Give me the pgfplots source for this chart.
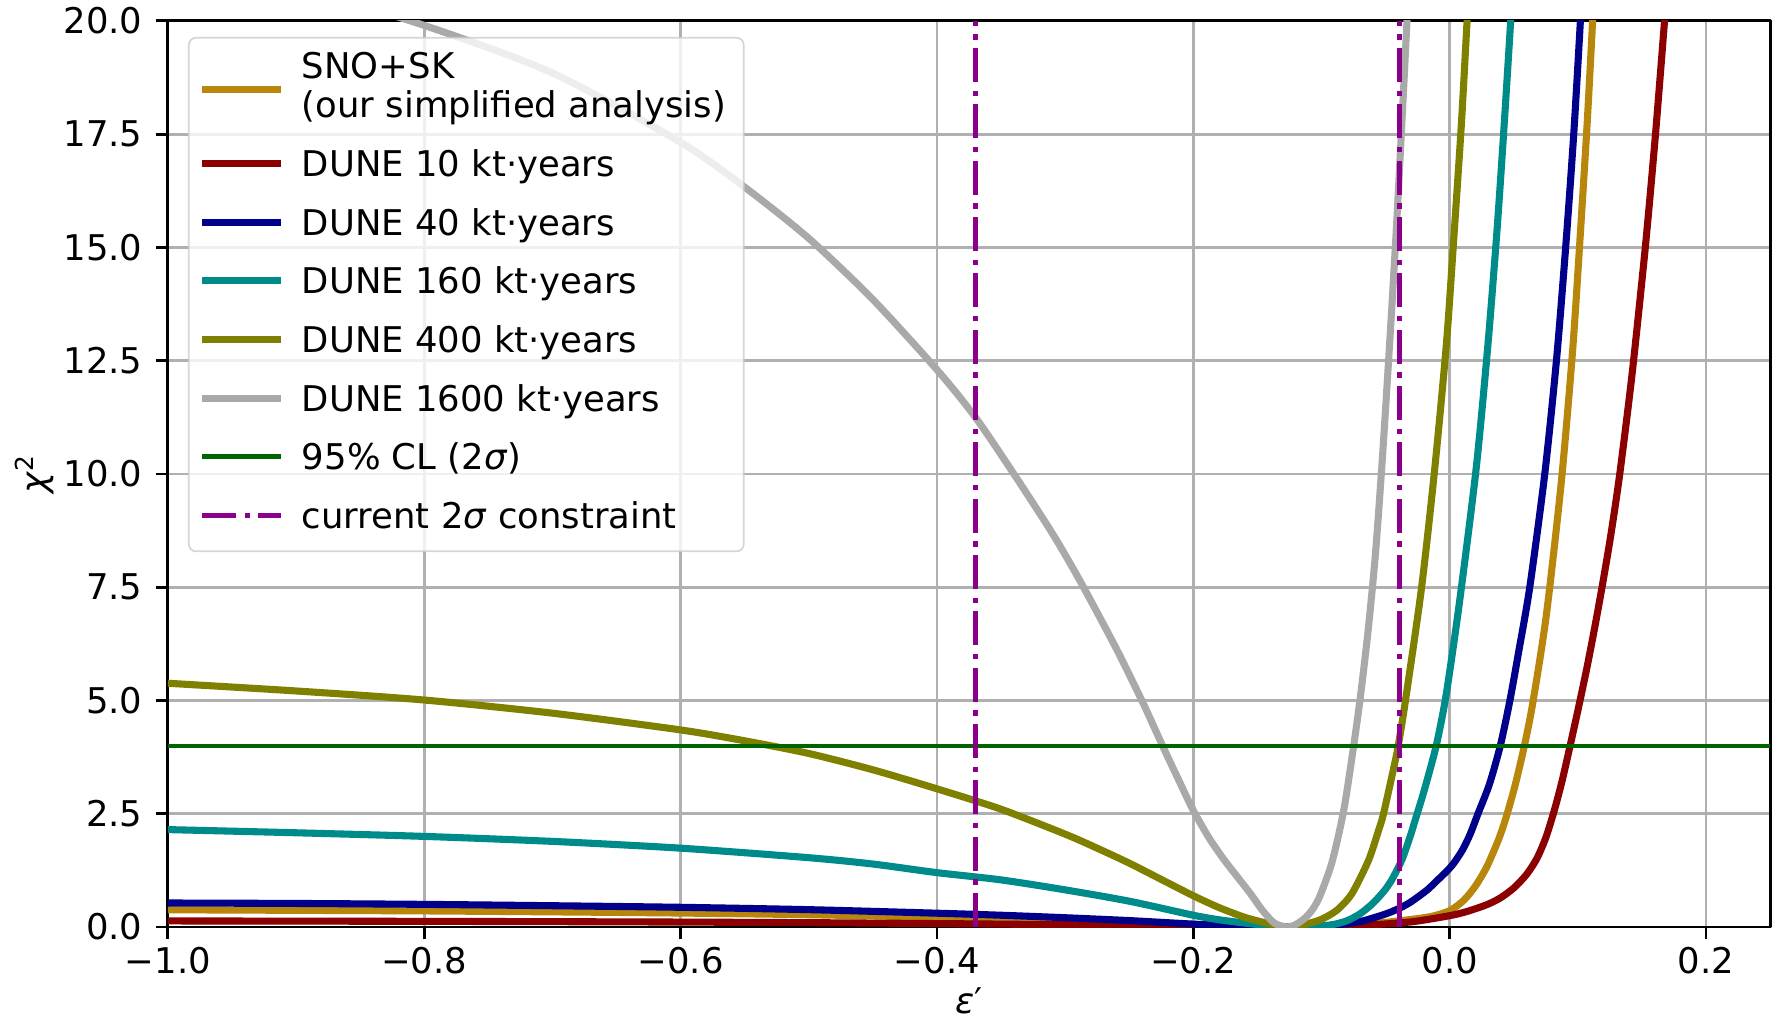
\documentclass[border=0pt]{standalone}
\usepackage{fontspec}
\setmainfont{DejaVu Sans}
\usepackage{pgfplots}
\pgfplotsset{compat=1.18}

\definecolor{cgold}{HTML}{B8860B}
\definecolor{cred}{HTML}{8B0000}
\definecolor{cblue}{HTML}{00008B}
\definecolor{ccyan}{HTML}{008B8B}
\definecolor{colive}{HTML}{808000}
\definecolor{cgray}{HTML}{A9A9A9}
\definecolor{cgreen}{HTML}{006400}
\definecolor{cmag}{HTML}{8B008B}
\definecolor{gridc}{HTML}{B0B0B0}

% strut that fixes the height of a one-line legend row
\newcommand{\ls}{\rule[-4.58pt]{0pt}{16.55pt}}

\begin{document}
\begin{tikzpicture}
\useasboundingbox (-47.4pt,-26.5pt) rectangle (455.1pt,261.7pt);
\begin{axis}[
    scale only axis,
    width=452.3pt, height=255.8pt,
    xmin=-1, xmax=0.25, ymin=0, ymax=20,
    xtick={-1,-0.8,-0.6,-0.4,-0.2,0,0.2},
    xticklabels={−1.0,−0.8,−0.6,−0.4,−0.2,0.0,0.2},
    ytick={0,2.5,5,7.5,10,12.5,15,17.5,20},
    yticklabels={0.0,2.5,5.0,7.5,10.0,12.5,15.0,17.5,20.0},
    xtick pos=bottom, ytick pos=left,
    tick align=outside, major tick length=3.5pt,
    every tick/.style={black, line width=0.8pt},
    axis line style={line width=0.8pt},
    grid=major,
    major grid style={color=gridc, line width=0.8pt},
    tick label style={font=\fontsize{10}{12}\selectfont},
    xticklabel style={anchor=north, inner sep=0pt, yshift=-2.1pt},
    yticklabel style={anchor=east, inner sep=0pt, xshift=-3.5pt},
    every axis x label/.style={at={(axis description cs:0.5,-0.095)}, anchor=base},
    every axis y label/.style={at={(axis description cs:-0.0756,0.5)}, anchor=base, rotate=90},
    label style={font=\fontsize{10}{12}\selectfont},
    xlabel={\textit{ε}′},
    ylabel={\textit{χ}\textsuperscript{2}},
    no markers,
    line join=round,
    curve/.style={line width=2pt, smooth, tension=0.45},
    legend cell align=left,
    legend style={at={(0.0125,0.9823)}, anchor=north west,
        draw=black!20, line width=0.5pt, rounded corners=2pt,
        fill=white, fill opacity=0.8, draw opacity=0.8, text opacity=1,
        inner xsep=2.75pt, inner ysep=1.9pt, column sep=5.0pt, row sep=0pt,
        font=\fontsize{10}{12}\selectfont,
        nodes={inner sep=0pt, text depth=, anchor=west,
               fill opacity=1, draw opacity=1, text opacity=1}},
    legend image code/.code={\draw[#1, draw opacity=1] (0pt,0pt) -- (22.2pt,0pt);},
]

% SNO+SK
\addplot[cgold, curve] coordinates {
(-1.00,0.380) (-0.90,0.368) (-0.80,0.355) (-0.70,0.334) (-0.60,0.308)
(-0.50,0.271) (-0.40,0.216) (-0.35,0.184) (-0.30,0.145) (-0.25,0.101)
(-0.20,0.045) (-0.17,0.020) (-0.15,0.008) (-0.1275,0) (-0.11,0.004)
(-0.09,0.02) (-0.07,0.05) (-0.054,0.09) (-0.035,0.15) (-0.015,0.23)
(0.0,0.36) (0.011,0.59) (0.020,0.90) (0.029,1.33) (0.038,1.92)
(0.0436,2.38) (0.051,3.12) (0.0586,4.04) (0.065,4.97) (0.0755,6.9)
(0.0872,9.85) (0.0960,12.75) (0.1015,15.1) (0.1072,17.7) (0.1118,20.15) (0.114,21.5)
};
\addlegendentry{\smash{\begin{tabular}[t]{@{}l@{\hspace{2.3pt}}}SNO+SK\\[-1pt](our simplified analysis)\end{tabular}}\rule[-15.76pt]{0pt}{25.32pt}}

% DUNE 10
\addplot[cred, curve] coordinates {
(-1.00,0.134) (-0.90,0.130) (-0.80,0.125) (-0.70,0.118) (-0.60,0.109)
(-0.50,0.096) (-0.40,0.076) (-0.30,0.051) (-0.25,0.036) (-0.20,0.016)
(-0.17,0.007) (-0.15,0.003) (-0.1275,0) (-0.10,0.004) (-0.08,0.02)
(-0.054,0.06) (-0.028,0.12) (0.0,0.25) (0.012,0.33) (0.024,0.44)
(0.032,0.53) (0.040,0.65) (0.050,0.86) (0.060,1.16) (0.068,1.51)
(0.075,1.97) (0.0815,2.56) (0.0875,3.20) (0.0935,3.94) (0.1005,4.84)
(0.107,5.71) (0.1135,6.66) (0.1198,7.65) (0.126,8.70) (0.1328,10.02)
(0.1425,12.25) (0.1528,15.05) (0.1605,17.47) (0.1676,19.98) (0.171,21.25)
};
\addlegendentry{\ls DUNE 10 kt·years}

% DUNE 40
\addplot[cblue, curve] coordinates {
(-1.00,0.53) (-0.90,0.52) (-0.80,0.50) (-0.70,0.47) (-0.60,0.435)
(-0.50,0.383) (-0.40,0.305) (-0.35,0.26) (-0.30,0.205) (-0.25,0.142)
(-0.20,0.064) (-0.17,0.03) (-0.15,0.012) (-0.1275,0) (-0.11,0.008)
(-0.09,0.04) (-0.07,0.12) (-0.054,0.25) (-0.046,0.33) (-0.038,0.43)
(-0.031,0.54) (-0.024,0.68) (-0.017,0.83) (-0.01,1.02) (-0.003,1.21)
(0.003,1.40) (0.010,1.70) (0.016,2.05) (0.0221,2.5) (0.031,3.15)
(0.0395,4.0) (0.047,5.0) (0.054,6.1) (0.0625,7.5) (0.0742,10)
(0.0833,12.5) (0.0905,15) (0.0968,17.5) (0.1020,20) (0.105,21.6)
};
\addlegendentry{\ls DUNE 40 kt·years}

% DUNE 160
\addplot[ccyan, curve] coordinates {
(-1.00,2.15) (-0.90,2.08) (-0.80,2.00) (-0.70,1.89) (-0.60,1.74)
(-0.50,1.53) (-0.45,1.39) (-0.40,1.20) (-0.35,1.04) (-0.30,0.82)
(-0.25,0.57) (-0.20,0.26) (-0.18,0.16) (-0.16,0.088) (-0.145,0.04)
(-0.135,0.012) (-0.1275,0) (-0.115,0.006) (-0.10,0.025) (-0.09,0.06)
(-0.08,0.14) (-0.07,0.29) (-0.06,0.52) (-0.051,0.80) (-0.045,1.05)
(-0.0373,1.48) (-0.0308,2.0) (-0.0269,2.36) (-0.02,3.0) (-0.0105,4.0)
(-0.0026,5.15) (0.0078,7.2) (0.0208,10.15) (0.030,12.9) (0.037,15.4)
(0.0424,17.65) (0.0477,20.05) (0.051,21.8)
};
\addlegendentry{\ls DUNE 160 kt·years}

% DUNE 400
\addplot[colive, curve] coordinates {
(-1.00,5.38) (-0.90,5.21) (-0.80,5.01) (-0.70,4.72) (-0.60,4.35)
(-0.55,4.11) (-0.50,3.83) (-0.45,3.47) (-0.40,3.05) (-0.35,2.60)
(-0.30,2.05) (-0.275,1.74) (-0.25,1.41) (-0.225,1.05) (-0.20,0.69)
(-0.18,0.43) (-0.16,0.215) (-0.145,0.10) (-0.135,0.035) (-0.1275,0)
(-0.118,0.03) (-0.11,0.08) (-0.10,0.17) (-0.088,0.37) (-0.0763,0.735)
(-0.0633,1.47) (-0.0555,2.13) (-0.0516,2.5) (-0.0425,3.66) (-0.040,4.02)
(-0.035,4.9) (-0.0221,7.45) (-0.0117,10.1) (-0.0026,12.85) (0.0031,15.15)
(0.0091,17.7) (0.0135,19.95) (0.017,21.7)
};
\addlegendentry{\ls DUNE 400 kt·years}

% DUNE 1600
\addplot[cgray, curve] coordinates {
(-1.00,21.45) (-0.90,20.75) (-0.80,19.9) (-0.70,18.85) (-0.60,17.32)
(-0.55,16.33) (-0.50,15.2) (-0.45,13.85) (-0.40,12.3) (-0.37,11.25)
(-0.34,10.0) (-0.31,8.69) (-0.288,7.62) (-0.26,6.14) (-0.239,4.93)
(-0.224,4.0) (-0.212,3.28) (-0.2005,2.6) (-0.188,1.98) (-0.1764,1.50)
(-0.166,1.12) (-0.1555,0.74) (-0.1464,0.38) (-0.137,0.09) (-0.1275,0)
(-0.122,0.03) (-0.118,0.09) (-0.112,0.22) (-0.1062,0.42) (-0.101,0.70)
(-0.0918,1.43) (-0.0828,2.55) (-0.0754,3.9) (-0.0697,5.07) (-0.0636,6.55)
(-0.058,8.2) (-0.0526,10.3) (-0.047,12.8) (-0.0417,15.35) (-0.037,17.9)
(-0.0326,20.4) (-0.029,22.6)
};
\addlegendentry{\ls DUNE 1600 kt·years}

% 95% CL
\addplot[cgreen, line width=1.25pt] coordinates {(-1,4) (0.25,4)};
\addlegendentry{\ls 95\% CL (2\textit{σ})}

% current constraint
\addplot[cmag, line width=1.25pt, dash pattern=on 9.6pt off 2.4pt on 1.5pt off 2.4pt]
    coordinates {(-0.37,0) (-0.37,20)};
\addlegendentry{\ls current 2\textit{σ} constraint}
\addplot[cmag, line width=1.25pt, dash pattern=on 9.6pt off 2.4pt on 1.5pt off 2.4pt, forget plot]
    coordinates {(-0.039,0) (-0.039,20)};

\end{axis}
\end{tikzpicture}
\end{document}
